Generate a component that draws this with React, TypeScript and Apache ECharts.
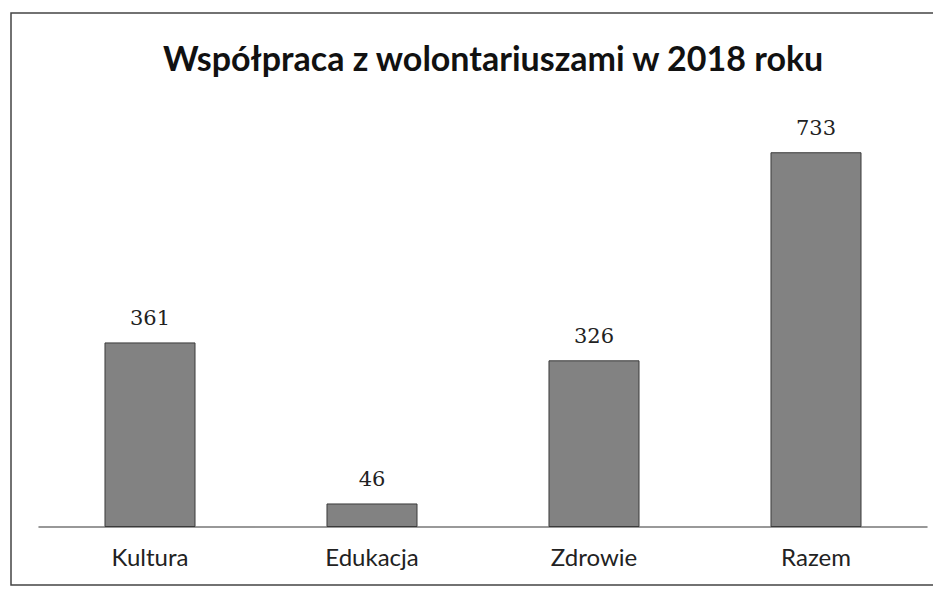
import React, { useEffect, useRef } from "react";
import * as echarts from "echarts";

const titleText = "Współpraca z wolontariuszami w 2018 roku";
const categories = ["Kultura", "Edukacja", "Zdrowie", "Razem"];
const values = [361, 46, 326, 733];

export default function App() {
  const ref = useRef<HTMLDivElement>(null);
  useEffect(() => {
    if (!ref.current) return;
    const chart = echarts.init(ref.current, null, { renderer: "svg" });
    chart.setOption({
      animation: false,
      backgroundColor: "#ffffff",
      title: {
        text: titleText,
        left: 150,
        top: 27,
        textStyle: { fontFamily: "Lato", fontWeight: "bold", fontSize: 34, color: "#111" },
      },
      graphic: [
        {
          type: "polyline",
          shape: { points: [[960, 5], [3, 5], [3, 577], [960, 577]] },
          style: { fill: "none", stroke: "#444", lineWidth: 1.5 },
          silent: true,
        },
      ],
      grid: { left: 31, right: 14, top: 110, bottom: 60 },
      xAxis: {
        type: "category",
        data: categories,
        axisLine: { lineStyle: { color: "#777", width: 1.5 } },
        axisTick: { show: false },
        axisLabel: { fontFamily: "Lato", fontSize: 24, color: "#222", margin: 17 },
      },
      yAxis: {
        type: "value",
        min: 0,
        max: 800,
        show: false,
        splitLine: { show: false },
      },
      series: [
        {
          type: "bar",
          data: values,
          barWidth: "41%",
          itemStyle: { color: "#828282", borderColor: "#3a3a3a", borderWidth: 1 },
          label: {
            show: true,
            position: "top",
            distance: 14,
            fontFamily: "DejaVu Serif",
            fontSize: 21,
            color: "#222",
          },
        },
      ],
    });
    return () => chart.dispose();
  }, []);
  return <div ref={ref} style={{ width: 933, height: 579 }} />;
}
